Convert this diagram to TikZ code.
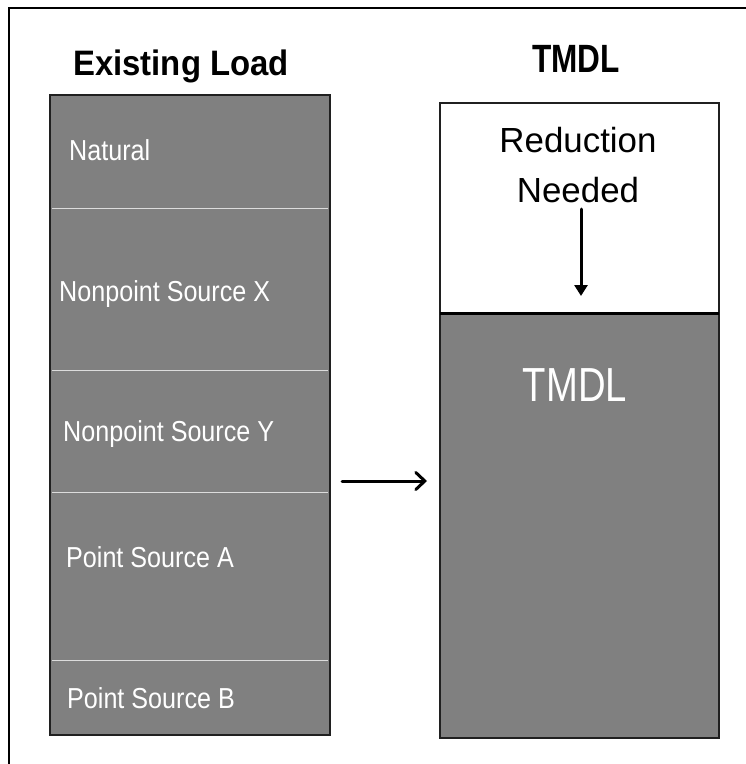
\documentclass[tikz,border=0pt]{standalone}
\usepackage{fontspec}
\setmainfont{Liberation Sans}
\newfontfamily\lblfont[FakeStretch=0.87]{Liberation Sans}
\newfontfamily\ttlAfont[FakeStretch=0.93]{Liberation Sans}
\newfontfamily\ttlBfont[FakeStretch=0.8]{Liberation Sans}
\usetikzlibrary{arrows.meta}
\definecolor{boxgray}{HTML}{808080}
\definecolor{divgray}{HTML}{DCDCDC}
\definecolor{edge}{HTML}{202020}
\begin{document}
\begin{tikzpicture}[x=1bp,y=-1bp,
  seg/.style={fill=boxgray, draw=none, minimum width=280bp, inner sep=0pt, anchor=north west},
  segtext/.style={text=white, font=\lblfont\fontsize{29}{32}\selectfont, anchor=base west, inner sep=0pt},
  divider/.style={draw=divgray, line width=1.6bp},
  frame/.style={draw=edge, line width=2bp},
  conn/.style={line width=3bp, line cap=round}]
\useasboundingbox (0,0) rectangle (746,764);
% outer frame
\draw[line width=2.5bp] (9,764) -- (9,8) -- (746,8);
% titles
\node[font=\ttlAfont\bfseries\fontsize{35.5}{38}\selectfont, inner sep=0pt, anchor=base] (t1) at (181,76) {Existing Load};
\node[font=\ttlBfont\bfseries\fontsize{39.6}{42}\selectfont, inner sep=0pt, anchor=base] (t2) at (576,73) {TMDL};
% left stack
\node[seg, minimum height=113bp] (nat) at (50,95) {};
\node[seg, minimum height=162bp] (npx) at (50,208) {};
\node[seg, minimum height=122bp] (npy) at (50,370) {};
\node[seg, minimum height=168bp] (psa) at (50,492) {};
\node[seg, minimum height=75bp] (psb) at (50,660) {};
\draw[divider] ([xshift=2bp]nat.south west) -- ([xshift=-2bp]nat.south east);
\draw[divider] ([xshift=2bp]npx.south west) -- ([xshift=-2bp]npx.south east);
\draw[divider] ([xshift=2bp]npy.south west) -- ([xshift=-2bp]npy.south east);
\draw[divider] ([xshift=2bp]psa.south west) -- ([xshift=-2bp]psa.south east);
\draw[frame] (nat.north west) rectangle (psb.south east);
\node[segtext] (l1) at (69,160) {Natural};
\node[segtext] (l2) at (59,301) {Nonpoint Source X};
\node[segtext] (l3) at (63,441) {Nonpoint Source Y};
\node[segtext] (l4) at (66,567) {Point Source A};
\node[segtext] (l5) at (67,708) {Point Source B};
% right stack
\node[fill=white, draw=none, minimum width=279bp, minimum height=210bp, inner sep=0pt, anchor=north west] (red) at (440,103) {};
\node[seg, minimum width=279bp, minimum height=425bp] (tm) at (440,313) {};
\draw[frame] (red.north west) rectangle (tm.south east);
\draw[line width=3bp] (tm.north west) -- (tm.north east);
\node[font=\fontsize{35}{50}\selectfont, inner sep=0pt, anchor=base] (rn1) at (578,152) {Reduction};
\node[font=\fontsize{35}{50}\selectfont, inner sep=0pt, anchor=base] (rn2) at (578,202) {Needed};
\node[text=white, font=\ttlBfont\fontsize{48}{50}\selectfont, inner sep=0pt, anchor=base] (tml) at (575,401) {TMDL};
% arrows
\coordinate (d1) at (581,209);
\coordinate (d2) at (581,296);
\draw[conn, -{Triangle[length=11bp,width=13bp]}] (d1) -- (d2);
\coordinate (a1) at (342,481);
\coordinate (a2) at (427,481);
\draw[conn, -{Straight Barb[length=9bp,width=17bp,line cap=round]}] (a1) -- (a2);
\end{tikzpicture}
\end{document}
